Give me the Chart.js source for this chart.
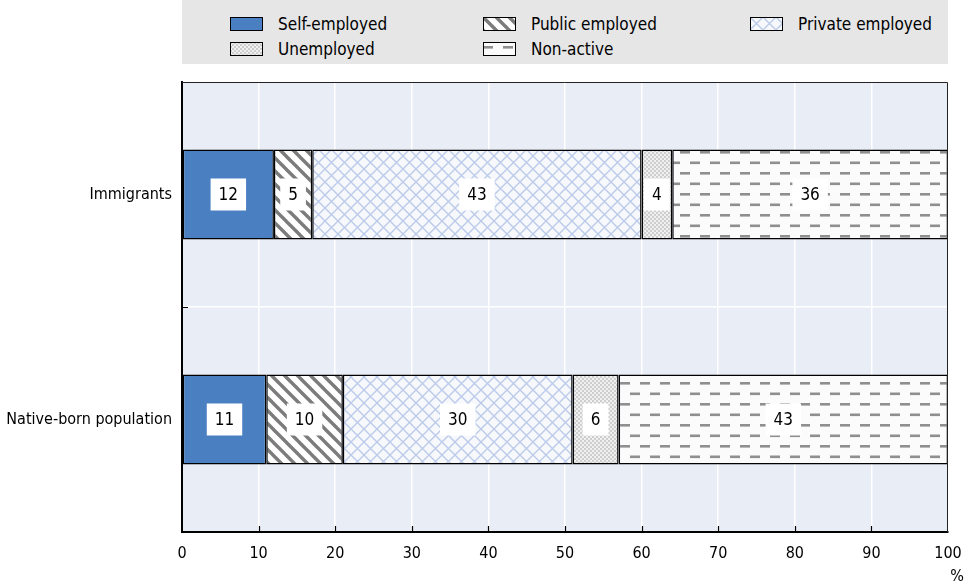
<!DOCTYPE html>
<html>
<head>
<meta charset="utf-8">
<script src="https://cdn.jsdelivr.net/npm/chart.js@4"></script>
<style>
  html, body { margin: 0; padding: 0; background: #fff; }
  #wrap { position: relative; width: 968px; height: 585px; }
  #legend {
    position: absolute; left: 182px; top: 0; width: 766px; height: 64px;
    background: #e6e6e6;
  }
  .item {
    position: absolute; display: flex; align-items: center;
    font-family: "DejaVu Sans Condensed", "Arial Narrow", sans-serif;
    font-size: 17px; color: #000; height: 20px;
  }
  .item canvas { display: block; margin-right: 15px; }
  #chart { position: absolute; left: 0; top: 0; }
</style>
</head>
<body>
<div id="wrap">
  <canvas id="chart" width="968" height="585"></canvas>
  <div id="legend"></div>
</div>
<script>
const FONT = '"DejaVu Sans Condensed", "Arial Narrow", sans-serif';

const categories = ["Immigrants", "Native-born population"];
const seriesNames = ["Self-employed", "Public employed", "Private employed", "Unemployed", "Non-active"];
const selfEmployed = [12, 11];
const publicEmployed = [5, 10];
const privateEmployed = [43, 30];
const unemployed = [4, 6];
const nonActive = [36, 43];
const xMin = 0;
const xMax = 100;
const xStep = 10;

// legend slots: [left of swatch, vertical centre]
const legendSlots = [[48, 24], [301, 24], [568, 24], [48, 49], [301, 49]];

function makePattern(w, h, paint) {
  const c = document.createElement("canvas");
  c.width = w;
  c.height = h;
  const g = c.getContext("2d");
  paint(g, w, h);
  return g.createPattern(c, "repeat");
}

const stripes = makePattern(13, 13, (g, w, h) => {
  g.fillStyle = "#ffffff";
  g.fillRect(0, 0, w, h);
  g.strokeStyle = "#7c7c7c";
  g.lineWidth = 3.4;
  [-1, 0, 1].forEach((k) => {
    g.beginPath();
    g.moveTo(k * w - 2, -2);
    g.lineTo(k * w + h + 2, h + 2);
    g.stroke();
  });
});

const crosshatch = makePattern(13, 13, (g, w, h) => {
  g.fillStyle = "#f6f8fc";
  g.fillRect(0, 0, w, h);
  g.strokeStyle = "#bccbea";
  g.lineWidth = 1.4;
  [-1, 0, 1].forEach((k) => {
    g.beginPath();
    g.moveTo(k * w - 2, -2);
    g.lineTo(k * w + h + 2, h + 2);
    g.moveTo(k * w - 2, h + 2);
    g.lineTo(k * w + h + 2, -2);
    g.stroke();
  });
});

const dots = makePattern(4, 4, (g, w, h) => {
  g.fillStyle = "#f0f0f0";
  g.fillRect(0, 0, w, h);
  g.fillStyle = "#a2a2a2";
  g.beginPath();
  g.arc(1, 1, 0.8, 0, Math.PI * 2);
  g.arc(3, 3, 0.8, 0, Math.PI * 2);
  g.fill();
});

const dashes = makePattern(20, 21, (g, w, h) => {
  g.fillStyle = "#fbfbfb";
  g.fillRect(0, 0, w, h);
  g.fillStyle = "#8f8f8f";
  g.fillRect(0, 4, 10, 2.6);
  g.fillRect(10, 14.5, 10, 2.6);
});

const fills = ["#4a80c2", stripes, crosshatch, dots, dashes];
const seriesValues = [selfEmployed, publicEmployed, privateEmployed, unemployed, nonActive];

// legend
const legend = document.getElementById("legend");
seriesNames.forEach((name, i) => {
  const item = document.createElement("div");
  item.className = "item";
  item.style.left = legendSlots[i][0] + "px";
  item.style.top = (legendSlots[i][1] - 10) + "px";
  const sw = document.createElement("canvas");
  sw.width = 33;
  sw.height = 14;
  const g = sw.getContext("2d");
  g.fillStyle = fills[i];
  g.fillRect(0, 0, 33, 14);
  g.strokeStyle = "#000";
  g.lineWidth = 1;
  g.strokeRect(0.5, 0.5, 32, 13);
  item.appendChild(sw);
  const label = document.createElement("span");
  label.textContent = name;
  item.appendChild(label);
  legend.appendChild(item);
});

const frame = {
  id: "frame",
  afterDraw(chart) {
    const { ctx, chartArea: a, scales } = chart;
    ctx.save();
    ctx.strokeStyle = "#222";
    ctx.lineWidth = 1;
    ctx.beginPath();
    ctx.moveTo(a.left, a.top + 0.5);
    ctx.lineTo(a.right - 0.5, a.top + 0.5);
    ctx.lineTo(a.right - 0.5, a.bottom);
    ctx.stroke();

    // inner tick marks on the value axis
    ctx.strokeStyle = "#000";
    ctx.lineWidth = 1.2;
    ctx.beginPath();
    for (let v = xMin + xStep; v < xMax; v += xStep) {
      const px = Math.round(scales.x.getPixelForValue(v)) + 0.5;
      ctx.moveTo(px, a.bottom);
      ctx.lineTo(px, a.bottom - 6);
    }
    // tick between the two categories
    const mid = Math.round((scales.y.getPixelForValue(0) + scales.y.getPixelForValue(1)) / 2) + 0.5;
    ctx.moveTo(a.left, mid);
    ctx.lineTo(a.left + 6, mid);
    ctx.stroke();

    ctx.fillStyle = "#000";
    ctx.font = "16px " + FONT;
    ctx.textAlign = "center";
    ctx.textBaseline = "middle";
    ctx.fillText("%", scales.x.getPixelForValue(xMax) + 9, 577);
    ctx.restore();
  }
};

const valueBoxes = {
  id: "valueBoxes",
  afterDatasetsDraw(chart) {
    const { ctx } = chart;
    ctx.save();
    ctx.font = "17px " + FONT;
    ctx.textAlign = "center";
    ctx.textBaseline = "middle";
    chart.data.datasets.forEach((ds, di) => {
      chart.getDatasetMeta(di).data.forEach((bar, i) => {
        const text = String(ds.data[i]);
        const cx = (bar.x + bar.base) / 2;
        const w = ctx.measureText(text).width + 16;
        const h = 32;
        ctx.fillStyle = "#fff";
        ctx.fillRect(cx - w / 2, bar.y - h / 2, w, h);
        ctx.fillStyle = "#000";
        ctx.fillText(text, cx, bar.y + 1);
      });
    });
    ctx.restore();
  }
};

new Chart(document.getElementById("chart"), {
  type: "bar",
  data: {
    labels: categories,
    datasets: seriesNames.map((name, i) => ({
      label: name,
      data: seriesValues[i],
      backgroundColor: fills[i],
      borderColor: "#000",
      borderWidth: 1.5,
      borderSkipped: false,
      barPercentage: 0.4,
      categoryPercentage: 1
    }))
  },
  options: {
    indexAxis: "y",
    responsive: false,
    animation: false,
    events: [],
    layout: { padding: { top: 82, right: 20, left: 0, bottom: 0 } },
    plugins: {
      legend: { display: false },
      tooltip: { enabled: false }
    },
    scales: {
      x: {
        stacked: true,
        min: xMin,
        max: xMax,
        ticks: {
          stepSize: xStep,
          color: "#000",
          padding: 12,
          font: { family: FONT, size: 16 }
        },
        grid: { color: "#ffffff", lineWidth: 1.5, drawTicks: false },
        border: { color: "#000", width: 2 },
        afterFit(scale) {
          scale.height = 53;
          scale.paddingLeft = 0;
          scale.paddingRight = 0;
        }
      },
      y: {
        stacked: true,
        ticks: {
          color: "#000",
          padding: 10,
          font: { family: FONT, size: 16 }
        },
        grid: { color: "#ffffff", lineWidth: 1.5, drawTicks: false },
        border: { color: "#000", width: 2 },
        afterFit(scale) { scale.width = 182; }
      }
    }
  },
  plugins: [
    {
      id: "plotBackground",
      beforeDraw(chart) {
        const { ctx, chartArea: a } = chart;
        ctx.save();
        ctx.fillStyle = "#e9edf6";
        ctx.fillRect(a.left, a.top, a.right - a.left, a.bottom - a.top);
        ctx.restore();
      }
    },
    valueBoxes,
    frame
  ]
});
</script>
</body>
</html>
